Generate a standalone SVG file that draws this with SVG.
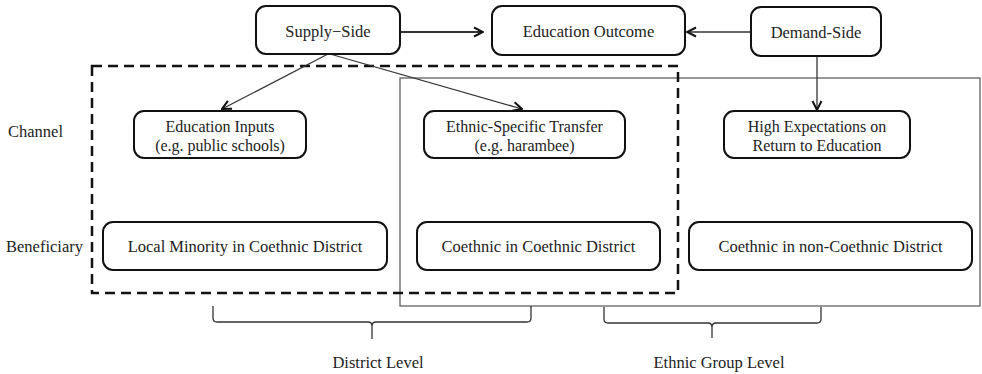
<svg xmlns="http://www.w3.org/2000/svg" width="982" height="374" viewBox="0 0 982 374">
<style>
text{font-family:"Liberation Serif","Times New Roman",serif;font-size:16.5px;fill:#222;text-anchor:middle}
.sm{font-size:16px}
.box{fill:#fff;stroke:#111;stroke-width:2}
.lbl{text-anchor:start}
.con{fill:none;stroke:#333;stroke-width:1.3}
.brace{fill:none;stroke:#333;stroke-width:1.3}
</style>
<defs>
<marker id="arr" viewBox="0 0 12 12" refX="11" refY="6" markerWidth="12" markerHeight="12" markerUnits="userSpaceOnUse" orient="auto">
<polyline points="2,1.5 11,6 2,10.5" fill="none" stroke="#111" stroke-width="2"/>
</marker>
</defs>
<rect x="0" y="0" width="982" height="374" fill="#fff"/>
<g id="regions">
<rect x="400" y="78" width="580" height="228" fill="none" stroke="#555" stroke-width="1.2"/>
<rect x="92" y="66" width="586" height="227" fill="none" stroke="#111" stroke-width="2.5" stroke-dasharray="10,6"/>
</g>
<g id="connectors">
<line class="con" x1="400" y1="32" x2="483" y2="32" marker-end="url(#arr)" style="stroke-width:1.8"/>
<line class="con" x1="751" y1="32" x2="687" y2="32" marker-end="url(#arr)" style="stroke-width:1.3"/>
<line class="con" x1="328" y1="54" x2="222" y2="109" marker-end="url(#arr)"/>
<line class="con" x1="330" y1="54" x2="522" y2="109" marker-end="url(#arr)"/>
<line class="con" x1="817" y1="56" x2="817" y2="110" marker-end="url(#arr)"/>
</g>
<g id="supply"><rect class="box" x="256" y="6" width="144" height="48" rx="10"/><text x="328" y="37">Supply−Side</text></g>
<g id="outcome"><rect class="box" x="492" y="6" width="193" height="49" rx="10"/><text x="588.5" y="37">Education Outcome</text></g>
<g id="demand"><rect class="box" x="751" y="7" width="130" height="49" rx="10"/><text x="816" y="38">Demand-Side</text></g>
<g id="inputs"><rect class="box" x="134" y="111" width="172" height="47" rx="10"/><text class="sm" x="220" y="132">Education Inputs</text><text class="sm" x="220" y="151">(e.g. public schools)</text></g>
<g id="transfer"><rect class="box" x="424" y="111" width="201" height="47" rx="10"/><text class="sm" x="524.5" y="132">Ethnic-Specific Transfer</text><text class="sm" x="524.5" y="151">(e.g. harambee)</text></g>
<g id="expect"><rect class="box" x="724" y="111" width="186" height="47" rx="10"/><text class="sm" x="817" y="132">High Expectations on</text><text class="sm" x="817" y="151">Return to Education</text></g>
<g id="minority"><rect class="box" x="103" y="222" width="284" height="48" rx="10"/><text x="245" y="252">Local Minority in Coethnic District</text></g>
<g id="coethnic"><rect class="box" x="417" y="222" width="243" height="48" rx="10"/><text x="538.5" y="252">Coethnic in Coethnic District</text></g>
<g id="noncoethnic"><rect class="box" x="689" y="222" width="283" height="48" rx="10"/><text x="830.5" y="252">Coethnic in non-Coethnic District</text></g>
<g id="labels">
<text class="lbl" x="8" y="137">Channel</text>
<text class="lbl" x="6" y="252">Beneficiary</text>
</g>
<g id="braces">
<path class="brace" d="M213,306 V318 Q213,322 217,322 H368 Q372,322 372,326 V339 M372,326 Q372,322 376,322 H527 Q531,322 531,318 V306"/>
<path class="brace" d="M604,307 V319 Q604,323 608,323 H708 Q712,323 712,327 V338 M712,327 Q712,323 716,323 H817 Q821,323 821,319 V307"/>
<text x="378" y="368">District Level</text>
<text x="719" y="368">Ethnic Group Level</text>
</g>
</svg>
